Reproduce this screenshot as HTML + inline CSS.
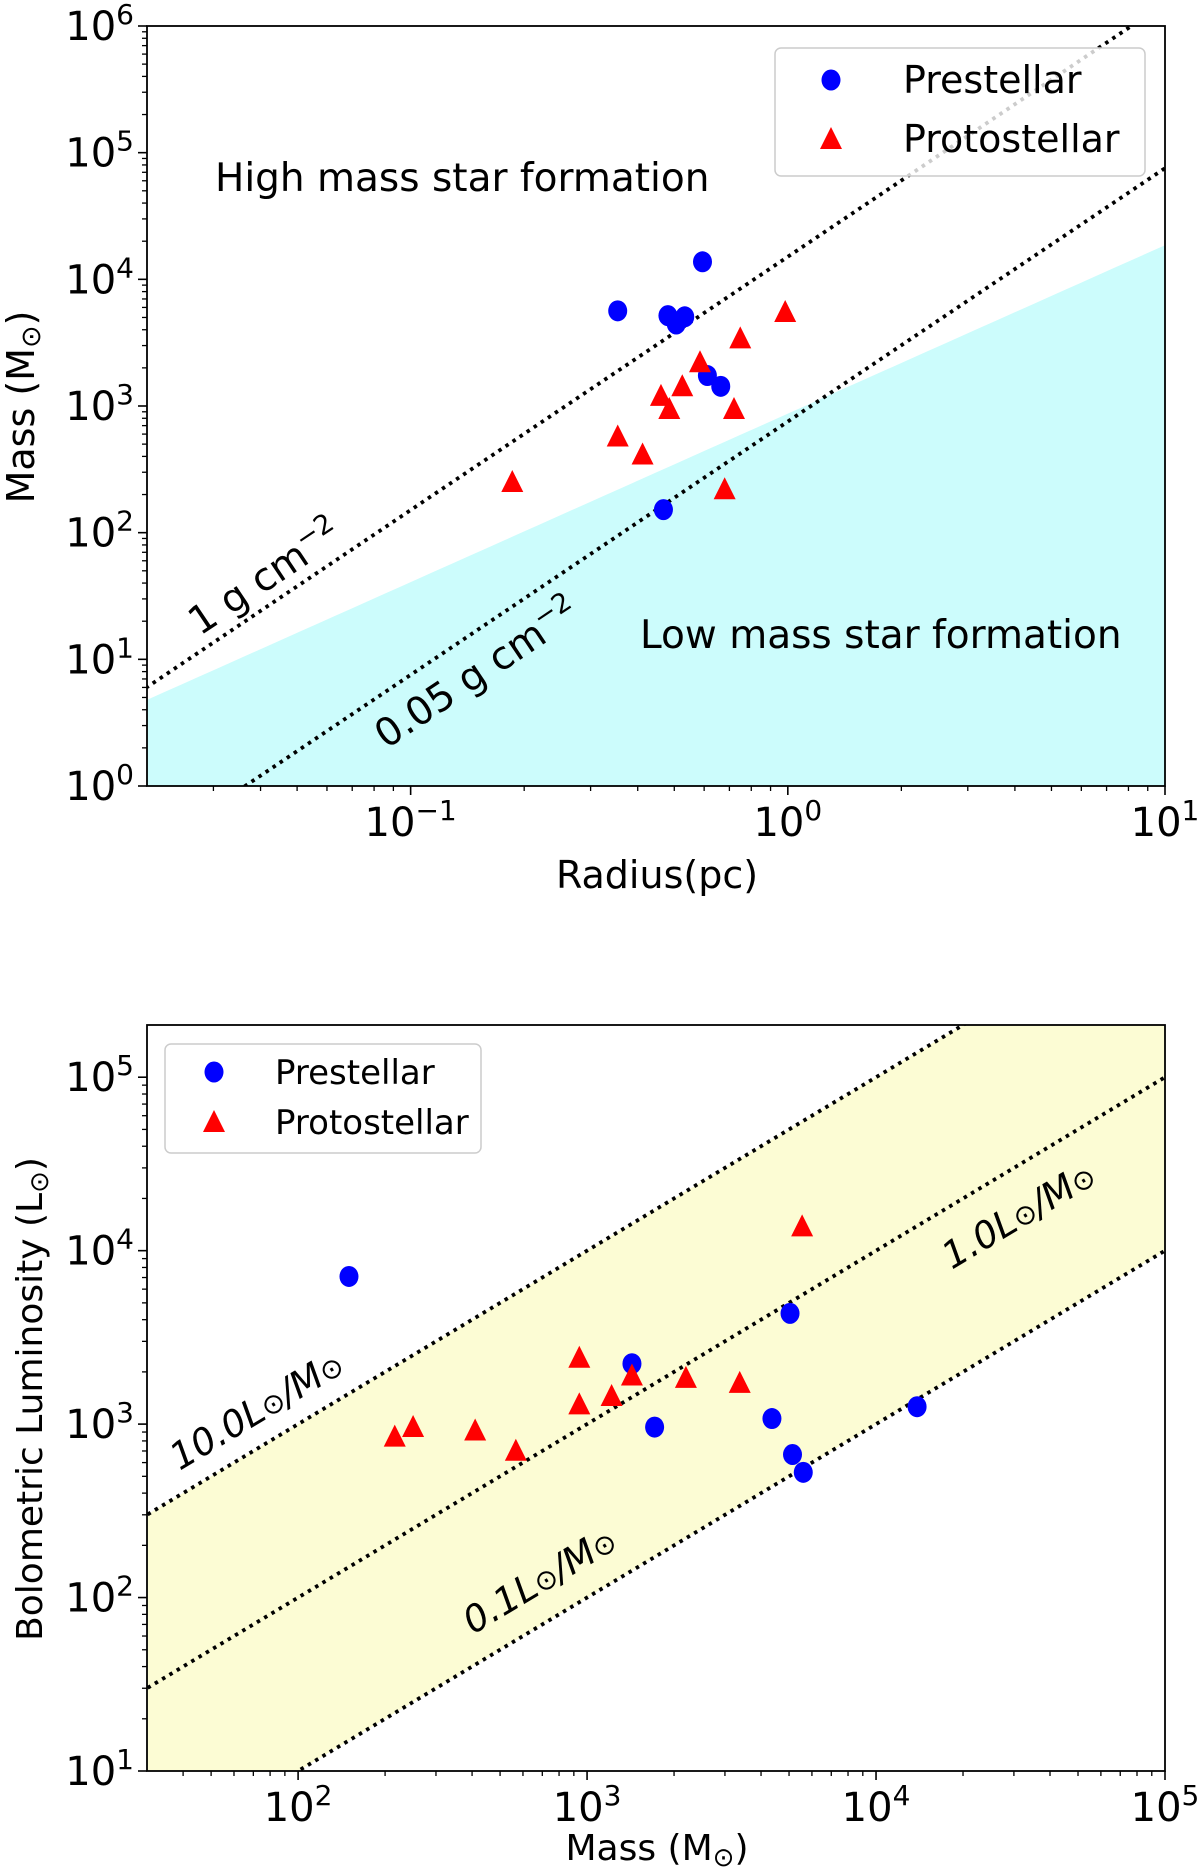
<!DOCTYPE html>
<html><head><meta charset="utf-8">
<style>
html,body{margin:0;padding:0;background:#fff;}
svg{display:block;font-family:"DejaVu Sans","Liberation Sans",sans-serif;}
</style></head>
<body>
<svg id="fig" width="1200" height="1870" viewBox="0 0 1200 1870" xmlns="http://www.w3.org/2000/svg"></svg>
<script>
// ---- Top chart data (Radius pc, Mass Msun) ----
const topPreR = [0.354,0.594,0.481,0.533,0.506,0.612,0.664,0.468];
const topPreM = [5640,13760,5170,5060,4440,1740,1430,152];
const topProR = [0.186,0.354,0.412,0.461,0.485,0.525,0.585,0.748,0.72,0.68,0.984];
const topProM = [251,574,414,1203,947,1432,2213,3420,947,220,5520];
const topYTicks = [0,1,2,3,4,5,6];
const topXTicks = [-1,0,1];
// ---- Bottom chart data (Mass Msun, Lbol Lsun) ----
const botPreM = [150,1430,1713,4363,5040,5140,5600,13870];
const botPreL = [7100,2230,961,1077,4350,668,527,1260];
const botProM = [216,250,410,567,940,940,1216,1430,2198,3375,5550];
const botProL = [847,962,918,702,2415,1300,1452,1905,1846,1730,13800];
const botYTicks = [1,2,3,4,5];
const botXTicks = [2,3,4,5];
const ratios = [10,1,0.1];

const NS="http://www.w3.org/2000/svg";
const svg=document.getElementById('fig');
function el(tag,attrs,parent){const e=document.createElementNS(NS,tag);for(const k in attrs)e.setAttribute(k,attrs[k]);(parent||svg).appendChild(e);return e;}
function logScale(d0,d1,r0,r1){const a=Math.log10(d0),b=Math.log10(d1);return v=>r0+(Math.log10(v)-a)/(b-a)*(r1-r0);}

function axes(g,L,R,T,B,xd,yd,xs,ys,xt,yt){
  const minorX=[],minorY=[];
  for(let e=Math.floor(Math.log10(xd[0]));e<=Math.ceil(Math.log10(xd[1]));e++)for(let m=2;m<10;m++){const v=m*Math.pow(10,e);if(v>xd[0]&&v<xd[1])minorX.push(v);}
  for(let e=Math.floor(Math.log10(yd[0]));e<=Math.ceil(Math.log10(yd[1]));e++)for(let m=2;m<10;m++){const v=m*Math.pow(10,e);if(v>yd[0]&&v<yd[1])minorY.push(v);}
  minorX.forEach(v=>{const t=el('line',{x1:xs(v),x2:xs(v),y1:B,y2:B+5,stroke:'#000','stroke-width':1.3},g);});
  minorY.forEach(v=>{const t=el('line',{x1:L-5,x2:L,y1:ys(v),y2:ys(v),stroke:'#000','stroke-width':1.3},g);});
  xt.forEach(e=>{const x=xs(Math.pow(10,e));
    const t=el('line',{x1:x,x2:x,y1:B,y2:B+9,stroke:'#000','stroke-width':1.6},g);
    
    const tx=el('text',{x:x,y:B+50,'font-size':40,'text-anchor':'middle'},g);
    
    tx.innerHTML='10<tspan dy="-16" font-size="28">'+(e<0?'\u2212'+(-e):e)+'</tspan>';});
  yt.forEach(e=>{const y=ys(Math.pow(10,e));
    const t=el('line',{x1:L-9,x2:L,y1:y,y2:y,stroke:'#000','stroke-width':1.6},g);
    
    const tx=el('text',{x:L-13,y:y+14,'font-size':40,'text-anchor':'end'},g);
    
    tx.innerHTML='10<tspan dy="-16" font-size="28">'+e+'</tspan>';});
  const f=el('rect',{x:L,y:T,width:R-L,height:B-T,fill:'none',stroke:'#000','stroke-width':1.8},g);
  
}
function circle(g,x,y){return el('ellipse',{cx:x,cy:y,rx:9.5,ry:10.5,fill:'#0000ff'},g);}
function tri(g,x,y){const s=11;return el('polygon',{points:`${x},${y-s-1} ${x+s},${y+s-1} ${x-s},${y+s-1}`,fill:'#ff0000'},g);}
const DOT={'stroke':'#000','stroke-width':3.8,'stroke-dasharray':'3.5,5'};

// ===== TOP =====
{
const L=147,R=1165,T=26,B=786;
const xd=[0.02,10],yd=[1,1e6];
const xs=logScale(xd[0],xd[1],L,R), ys=logScale(yd[0],yd[1],B,T);
const g=el('g',{});
const cpp=el('clipPath',{id:'c1'},g);el('rect',{x:L,y:T,width:R-L,height:B-T},cpp);
const pg=el('g',{'clip-path':'url(#c1)'},g);
let pts=[];for(let i=0;i<=60;i++){const r=Math.pow(10,Math.log10(xd[0])+i/60*Math.log10(xd[1]/xd[0]));pts.push(xs(r)+','+ys(870*Math.pow(r,1.33)));}
pts.push(R+','+B,L+','+B);
const fill=el('polygon',{points:pts.join(' '),fill:'#ccfcfc'},pg);

[[15080,'line-1-g-cm2'],[754,'line-0.05-g-cm2']].forEach(([k,n])=>{
  const r0=0.005,r1=20;
  const l=el('line',Object.assign({x1:xs(r0),y1:ys(k*r0*r0),x2:xs(r1),y2:ys(k*r1*r1)},DOT),pg);
  });
topPreR.forEach((r,i)=>{const c=circle(pg,xs(r),ys(topPreM[i]));});
topProR.forEach((r,i)=>{const t=tri(pg,xs(r),ys(topProM[i]));});
axes(g,L,R,T,B,xd,yd,xs,ys,topXTicks,topYTicks);
let t;
t=el('text',{x:215,y:191,'font-size':39},g);t.textContent='High mass star formation';
t=el('text',{x:640,y:648,'font-size':39},g);t.textContent='Low mass star formation';
t=el('text',{x:0,y:0,'font-size':39,'text-anchor':'middle',transform:'translate(272,588) rotate(-33.8)'},g);t.innerHTML='1 g cm<tspan dy="-15" font-size="27">\u22122</tspan>';
t=el('text',{x:0,y:0,'font-size':39,'text-anchor':'middle',transform:'translate(484,684) rotate(-33.8)'},g);t.innerHTML='0.05 g cm<tspan dy="-15" font-size="27">\u22122</tspan>';
t=el('text',{x:657,y:888,'font-size':38,'text-anchor':'middle'},g);t.textContent='Radius(pc)';
t=el('text',{x:0,y:0,'font-size':38,'text-anchor':'middle',transform:'translate(34,407) rotate(-90)'},g);t.innerHTML='Mass (M<tspan dy="6" font-size="27">\u2299</tspan><tspan dy="-6">)</tspan>';
const lg=el('g',{},g);
el('rect',{x:775,y:48,width:370,height:128,rx:6,fill:'#fff','fill-opacity':0.8,stroke:'#ccc','stroke-width':1.5},lg);
let m=circle(lg,831,80);
m=tri(lg,831,139);
t=el('text',{x:903,y:93,'font-size':38},lg);t.textContent='Prestellar';
t=el('text',{x:903,y:152,'font-size':38},lg);t.textContent='Protostellar';
}

// ===== BOTTOM =====
{
const L=147,R=1165,T=1025,B=1771;
const xd=[30,1e5],yd=[10,2e5];
const xs=logScale(xd[0],xd[1],L,R), ys=logScale(yd[0],yd[1],B,T);
const g=el('g',{});
const cpp=el('clipPath',{id:'c2'},g);el('rect',{x:L,y:T,width:R-L,height:B-T},cpp);
const pg=el('g',{'clip-path':'url(#c2)'},g);
const m0=10,m1=2e5;
const band=el('polygon',{points:[[m0,10*m0],[m1,10*m1],[m1,0.1*m1],[m0,0.1*m0]].map(p=>xs(p[0])+','+ys(p[1])).join(' '),fill:'#fcfcd4'},pg);

ratios.forEach(k=>{const l=el('line',Object.assign({x1:xs(m0),y1:ys(k*m0),x2:xs(m1),y2:ys(k*m1)},DOT),pg);
  });
botPreM.forEach((v,i)=>{const c=circle(pg,xs(v),ys(botPreL[i]));});
botProM.forEach((v,i)=>{const t=tri(pg,xs(v),ys(botProL[i]));});
axes(g,L,R,T,B,xd,yd,xs,ys,botXTicks,botYTicks);
let t;
const lab=(txt,x,y,n)=>{t=el('text',{x:0,y:0,'font-size':37,'font-style':'italic','text-anchor':'middle',transform:`translate(${x},${y}) rotate(-30.9)`},g);
  t.innerHTML=txt+'L<tspan font-size="28" font-style="normal">\u2299</tspan>/M<tspan font-size="28" font-style="normal">\u2299</tspan>';};
lab('10.0',263,1421,'ratio-label-10');
lab('1.0',1025,1226,'ratio-label-1');
lab('0.1',546,1591,'ratio-label-0.1');
t=el('text',{x:657,y:1860,'font-size':36,'text-anchor':'middle'},g);t.innerHTML='Mass (M<tspan dy="6" font-size="26">\u2299</tspan><tspan dy="-6">)</tspan>';
t=el('text',{x:0,y:0,'font-size':36,'text-anchor':'middle',transform:'translate(42,1399) rotate(-90)'},g);t.innerHTML='Bolometric Luminosity (L<tspan dy="6" font-size="26">\u2299</tspan><tspan dy="-6">)</tspan>';
const lg=el('g',{},g);
el('rect',{x:165,y:1044,width:316,height:109,rx:6,fill:'#fff','fill-opacity':0.8,stroke:'#ccc','stroke-width':1.5},lg);
let m=circle(lg,214,1072);
m=tri(lg,214,1122);
t=el('text',{x:275,y:1084,'font-size':34},lg);t.textContent='Prestellar';
t=el('text',{x:275,y:1134,'font-size':34},lg);t.textContent='Protostellar';
}
</script>
</body></html>
